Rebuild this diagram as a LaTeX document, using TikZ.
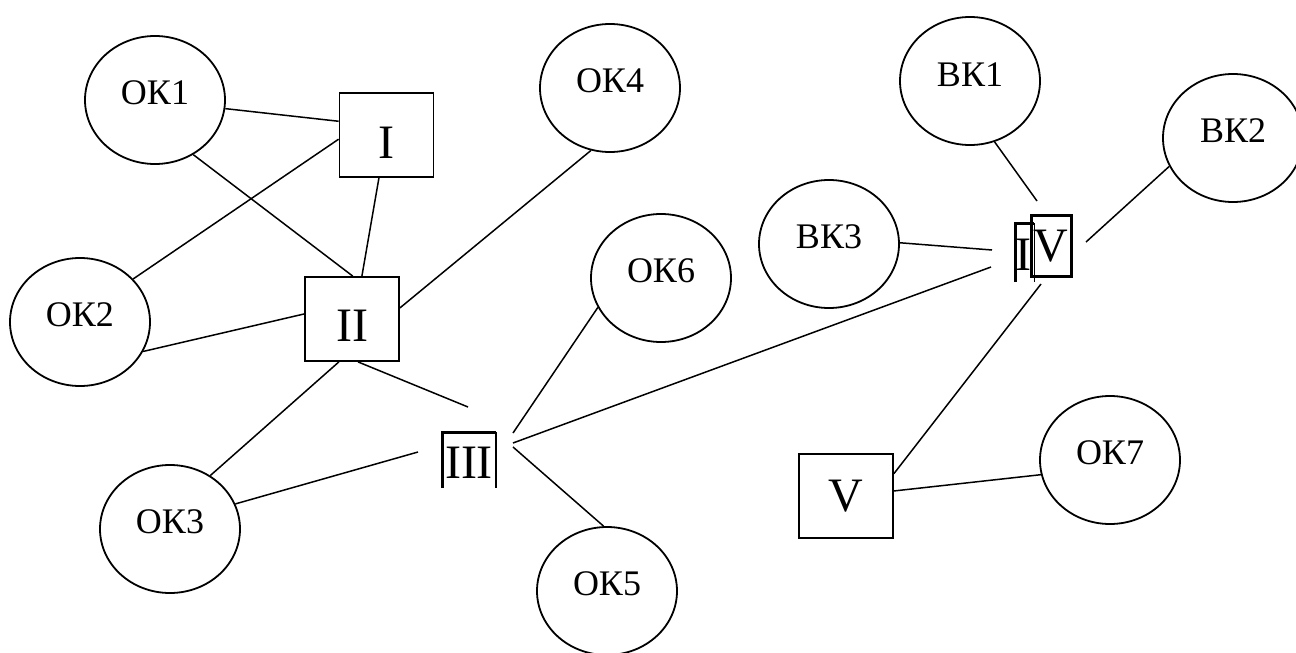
\documentclass[tikz,border=0pt]{standalone}
\usepackage{fontspec}
\setmainfont{Liberation Serif}
\usetikzlibrary{shapes.geometric}
\begin{document}
\begin{tikzpicture}[x=1pt,y=-1pt,
  oval/.style={ellipse, draw, line width=1.8pt, minimum width=140pt, minimum height=128pt, inner sep=0pt},
  okl/.style={font=\fontsize{36}{36}\selectfont, yshift=7pt, inner sep=0pt},
  boxn/.style={rectangle, draw, line width=1.8pt, minimum width=94pt, minimum height=84pt, inner sep=0pt},
  bigl/.style={font=\fontsize{48}{48}\selectfont, inner sep=0pt},
  link/.style={line width=1.5pt},
  frame/.style={line width=3pt},
  thinframe/.style={line width=2pt}
]
\useasboundingbox (0,0) rectangle (1296,653);

% ellipses
\node[oval, label={[okl]center:ОК1}] (ok1) at (155,100) {};
\node[oval, label={[okl]center:ОК2}] (ok2) at (80,322) {};
\node[oval, label={[okl]center:ОК3}] (ok3) at (170,529) {};
\node[oval, label={[okl]center:ОК4}] (ok4) at (610,88) {};
\node[oval, label={[okl]center:ОК5}] (ok5) at (607,591) {};
\node[oval, label={[okl]center:ОК6}] (ok6) at (661,278) {};
\node[oval, label={[okl]center:ОК7}] (ok7) at (1110,460) {};
\node[oval, label={[okl,yshift=-1pt]center:ВК1}] (vk1) at (970,81) {};
\node[oval, label={[okl]center:ВК2}] (vk2) at (1233,138) {};
\node[oval, label={[okl]center:ВК3}] (vk3) at (829,244) {};

% boxes
\node[boxn, label={[bigl,yshift=-8pt]center:I}] (I) at (386.5,135) {};
\node[boxn, label={[bigl,yshift=-7pt]center:II}] (II) at (352,319) {};
\node[boxn, label={[bigl]center:V}] (V) at (846,496) {};

% III
\node[bigl] (III) at (469,463) {III};
\draw[frame] (442,488) -- (442,432) -- (496,432);
\draw[thinframe] (496,432) -- (496,488);

% IV
\node[bigl] (IVi) at (1023.5,255) {I};
\draw[frame] (1015,282) -- (1015,223) -- (1034,223);
\draw[line width=1pt] (1034,223) -- (1034,282);
\node[bigl] (IVv) at (1051,246.5) {V};
\draw[frame] (1031,215.5) rectangle (1071,276);

% free ends near III and IV
\coordinate (t2) at (468,407);
\coordinate (t3) at (418,452);
\coordinate (t6) at (513,433);
\coordinate (t4) at (513,443);
\coordinate (t5) at (513,447);
\coordinate (f1) at (1037,201);
\coordinate (f2) at (1086,242);
\coordinate (f3) at (992,250);
\coordinate (f0) at (991,267);
\coordinate (fV) at (1041,284);

% connectors
\draw[link] (ok1.-7) -- (I.164);
\draw[link] (ok1.-55) -- (II.89);
\draw[link] (ok2.39) -- (I.185);
\draw[link] (I.260) -- (II.77);
\draw[link] (ok2.-25) -- (II.174);
\draw[link] (II.13) -- (ok4.253);
\draw[link] (ok3.53) -- (II.253);
\draw[link] (II.-82) -- (t2);
\draw[link] (ok3.21) -- (t3);
\draw[link] (t6) -- (ok6.205);
\draw[link] (t4) -- (f0);
\draw[link] (t5) -- (ok5.93);
\draw[link] (V.25) -- (fV);
\draw[link] (V.6) -- (ok7.192);
\draw[link] (vk1.-68) -- (f1);
\draw[link] (vk2.204) -- (f2);
\draw[link] (vk3.1) -- (f3);
\end{tikzpicture}
\end{document}
